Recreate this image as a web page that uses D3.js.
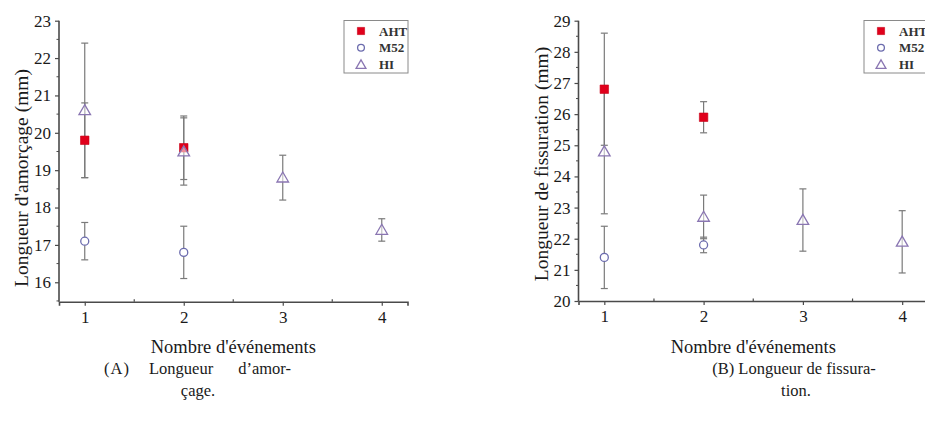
<!DOCTYPE html>
<html><head><meta charset="utf-8">
<script src="https://cdn.jsdelivr.net/npm/d3@7"></script>
<style>
html,body{margin:0;padding:0;background:#fff;}
svg{display:block;font-family:"Liberation Serif","Times New Roman",serif;}
</style></head>
<body><svg id="c" width="925" height="426"></svg>
<script>
// ---- data ----
const events = [1, 2, 3, 4];
const xTicks = [1, 2, 3, 4];
const seriesNames = ["AHT", "M52", "HI"];

// (A) Longueur d'amorçage
const ahtA = [19.8, 19.6, null, null];
const ahtAErr = [1.0, 0.85, null, null];
const m52A = [17.1, 16.8, null, null];
const m52AErr = [0.5, 0.7, null, null];
const hiA = [20.6, 19.5, 18.8, 17.4];
const hiAErr = [1.8, 0.9, 0.6, 0.3];
const yTicksA = [16, 17, 18, 19, 20, 21, 22, 23];

// (B) Longueur de fissuration
const ahtB = [26.8, 25.9, null, null];
const ahtBErr = [1.8, 0.5, null, null];
const m52B = [21.4, 21.8, null, null];
const m52BErr = [1.0, 0.25, null, null];
const hiB = [24.8, 22.7, 22.6, 21.9];
const hiBErr = [2.0, 0.7, 1.0, 1.0];
const yTicksB = [20, 21, 22, 23, 24, 25, 26, 27, 28, 29];

const xLabel = "Nombre d'événements";
const yLabelA = "Longueur d'amorçage (mm)";
const yLabelB = "Longueur de fissuration (mm)";
const captionA = ["(A)", "Longueur", "d’amor-", "çage."];
const captionB = ["(B) Longueur de fissura-", "tion."];

// ---- drawing ----
const svg = d3.select("#c");
const colors = {AHT: "#e0001b", M52: "#6c6cae", HI: "#8a76b2"};
const errColor = "#7a7a7a";
const axisColor = "#4a4a4a";

function panel(cfg) {
  const x = d3.scaleLinear().domain([0.74, 4.26]).range([cfg.x0, cfg.x1]);
  const y = d3.scaleLinear().domain(cfg.yDomain).range([cfg.yBottom, cfg.yTop]);
  const g = svg.append("g");

  // minor ticks
  const yMinor = d3.range(cfg.yTicks[0] - 0.5, cfg.yTicks[cfg.yTicks.length-1], 1).filter(v => v >= cfg.yDomain[0]);
  g.selectAll(".ymin").data(yMinor).join("line")
    .attr("x1", cfg.x0 - 2.5).attr("x2", cfg.x0).attr("y1", d => y(d)).attr("y2", d => y(d))
    .attr("stroke", axisColor).attr("stroke-width", 1);
  const xMinor = [1.5, 2.5, 3.5];
  g.selectAll(".xmin").data(xMinor).join("line")
    .attr("x1", d => x(d)).attr("x2", d => x(d)).attr("y1", cfg.yBottom).attr("y2", cfg.yBottom - 2.5)
    .attr("stroke", axisColor).attr("stroke-width", 1.2);

  const ya = g.append("g").attr("transform", `translate(${cfg.x0},0)`)
    .call(d3.axisLeft(y).tickValues(cfg.yTicks).tickSize(4).tickPadding(4).tickFormat(d3.format("d")));
  ya.select(".domain").attr("d", `M0,${cfg.yTop}V${cfg.yBottom}`);
  const xa = g.append("g").attr("transform", `translate(0,${cfg.yBottom})`)
    .call(d3.axisBottom(x).tickValues(xTicks).tickSize(4).tickPadding(5).tickFormat(d3.format("d")));
  [ya, xa].forEach(a => {
    a.selectAll("path,line").attr("stroke", axisColor);
    a.select(".domain").attr("stroke-width", 1.6);
    a.selectAll("line").attr("stroke-width", 1.2);
    a.selectAll("text").attr("font-family", "Liberation Serif").attr("font-size", 17).attr("fill", "#1a1a1a");
  });

  // axis titles
  g.append("text").attr("x", (cfg.x0 + cfg.x1) / 2).attr("y", 353).attr("text-anchor", "middle")
    .attr("font-size", 18.5).attr("fill", "#1a1a1a").text(xLabel);
  g.append("text").attr("transform", `translate(${cfg.ylx},${cfg.yly}) rotate(-90)`)
    .attr("text-anchor", "middle").attr("dy", "0.35em")
    .attr("font-size", 19.5).attr("fill", "#1a1a1a").text(cfg.yLabel);

  const series = [
    {name: "AHT", v: cfg.aht, e: cfg.ahtErr},
    {name: "M52", v: cfg.m52, e: cfg.m52Err},
    {name: "HI", v: cfg.hi, e: cfg.hiErr}
  ];
  // error bars
  series.forEach(s => {
    const pts = events.map((ev, i) => ({ev, v: s.v[i], e: s.e[i]})).filter(p => p.v != null && p.e != null);
    const eg = g.append("g").attr("stroke", errColor).attr("stroke-width", 1.2);
    eg.selectAll(".v").data(pts).join("line")
      .attr("x1", p => x(p.ev)).attr("x2", p => x(p.ev))
      .attr("y1", p => y(p.v + p.e)).attr("y2", p => y(p.v - p.e));
    eg.selectAll(".t").data(pts).join("line")
      .attr("x1", p => x(p.ev) - 3.5).attr("x2", p => x(p.ev) + 3.5)
      .attr("y1", p => y(p.v + p.e)).attr("y2", p => y(p.v + p.e));
    eg.selectAll(".b").data(pts).join("line")
      .attr("x1", p => x(p.ev) - 3.5).attr("x2", p => x(p.ev) + 3.5)
      .attr("y1", p => y(p.v - p.e)).attr("y2", p => y(p.v - p.e));
  });
  // markers
  series.forEach(s => {
    const pts = events.map((ev, i) => ({ev, v: s.v[i]})).filter(p => p.v != null);
    drawMarker(g.append("g"), s.name, pts, x, y);
  });

  // legend
  const lg = svg.append("g");
  lg.append("rect").attr("x", cfg.legX).attr("y", 20.5).attr("width", 64).attr("height", 52.5)
    .attr("fill", "#fff").attr("stroke", "#8a8a8a").attr("stroke-width", 1);
  seriesNames.forEach((n, i) => {
    const cy = 31 + i * 16.8;
    drawMarker(lg.append("g"), n, [{px: cfg.legX + 17, py: cy}], null, null, true);
    lg.append("text").attr("x", cfg.legX + 35).attr("y", cy).attr("dy", "0.35em")
      .attr("font-size", 13).attr("font-weight", "bold").attr("fill", "#333").text(n);
  });
}

function drawMarker(g, name, pts, x, y, legend) {
  const px = p => legend ? p.px : x(p.ev);
  const py = p => legend ? p.py : y(p.v);
  const sc = legend ? 0.85 : 1;
  if (name === "AHT") {
    g.selectAll("path").data(pts).join("path")
      .attr("transform", p => `translate(${px(p)},${py(p)})`)
      .attr("d", d3.symbol(d3.symbolSquare, 72 * sc * sc)())
      .attr("fill", colors.AHT).attr("stroke", "#c80018").attr("stroke-width", 0.6);
  } else if (name === "M52") {
    g.selectAll("circle").data(pts).join("circle")
      .attr("cx", px).attr("cy", py).attr("r", 4 * sc)
      .attr("fill", "#fff").attr("stroke", colors.M52).attr("stroke-width", 1.3);
  } else {
    g.selectAll("path").data(pts).join("path")
      .attr("transform", p => `translate(${px(p)},${py(p) + 1})`)
      .attr("d", d3.symbol(d3.symbolTriangle, 58 * sc * sc)())
      .attr("fill", "#fff").attr("fill-opacity", 0.55)
      .attr("stroke", colors.HI).attr("stroke-width", 1.3);
  }
}

panel({x0: 59, x1: 407.5, yTop: 20.7, yBottom: 301.7, yDomain: [15.48, 23], yTicks: yTicksA,
  aht: ahtA, ahtErr: ahtAErr, m52: m52A, m52Err: m52AErr, hi: hiA, hiErr: hiAErr,
  yLabel: yLabelA, ylx: 21, yly: 178, legX: 344});
panel({x0: 578.5, x1: 928, yTop: 20.7, yBottom: 301, yDomain: [20, 29], yTicks: yTicksB,
  aht: ahtB, ahtErr: ahtBErr, m52: m52B, m52Err: m52BErr, hi: hiB, hiErr: hiBErr,
  yLabel: yLabelB, ylx: 541, yly: 164, legX: 864});

// captions
const cap = svg.append("g").attr("font-family", "'Liberation Serif',serif").attr("font-size", 16.5).attr("fill", "#1a1a1a");
cap.append("text").attr("x", 104).attr("y", 374).attr("letter-spacing", 1).text(captionA[0]);
cap.append("text").attr("x", 149).attr("y", 374).text(captionA[1]);
cap.append("text").attr("x", 291).attr("y", 374).attr("text-anchor", "end").text(captionA[2]);
cap.append("text").attr("x", 198).attr("y", 396).attr("text-anchor", "middle").text(captionA[3]);
cap.append("text").attr("x", 794).attr("y", 374).attr("text-anchor", "middle").text(captionB[0]);
cap.append("text").attr("x", 796).attr("y", 396).attr("text-anchor", "middle").text(captionB[1]);
</script></body></html>
